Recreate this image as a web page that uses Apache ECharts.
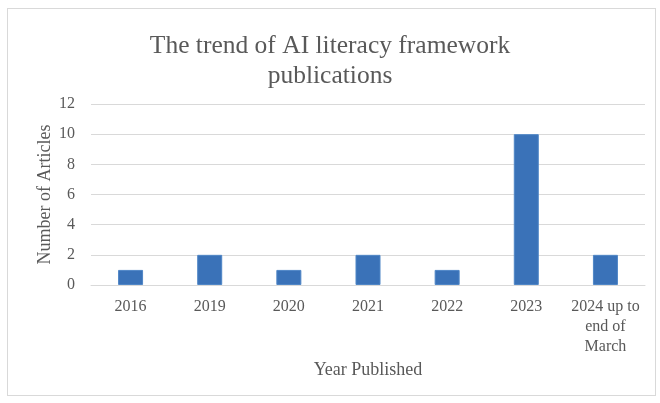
<!DOCTYPE html>
<html>
<head>
<meta charset="utf-8">
<script src="https://cdn.jsdelivr.net/npm/echarts@6/dist/echarts.min.js"></script>
<style>
  html, body { margin: 0; padding: 0; background: #fff; }
  #frame { position: absolute; left: 7px; top: 8px; width: 647px; height: 386px; border: 1px solid #d9d9d9; }
  #chart { position: absolute; left: 0; top: 0; width: 660px; height: 403px; }
</style>
</head>
<body>
<div id="frame"></div>
<div id="chart"></div>
<script>
// data
const categories = ['2016', '2019', '2020', '2021', '2022', '2023', '2024 up to\nend of\nMarch']
const articles = [1, 2, 1, 2, 1, 10, 2]
const titleText = 'The trend of AI literacy framework\npublications'

const serif = '"Liberation Serif", "DejaVu Serif", serif'
const grey = '#595959'

const chart = echarts.init(document.getElementById('chart'))
chart.setOption({
  animation: false,
  title: {
    text: titleText,
    left: 'center',
    top: 26,
    textStyle: { fontFamily: serif, fontSize: 25.5, fontWeight: 'normal', color: grey, lineHeight: 30 }
  },
  grid: { left: 91, right: 15, top: 104, bottom: 118 },
  xAxis: {
    type: 'category',
    data: categories,
    name: 'Year Published',
    nameLocation: 'middle',
    nameGap: 76,
    nameMoveOverlap: false,
    nameTextStyle: { fontFamily: serif, fontSize: 18, color: grey },
    axisLine: { lineStyle: { color: '#d9d9d9', width: 1 } },
    axisTick: { show: false },
    axisLabel: { fontFamily: serif, fontSize: 16, color: grey, margin: 12, lineHeight: 20, interval: 0 }
  },
  yAxis: {
    type: 'value',
    min: 0,
    max: 12,
    interval: 2,
    name: 'Number of Articles',
    nameLocation: 'middle',
    nameGap: 37,
    nameMoveOverlap: false,
    nameTextStyle: { fontFamily: serif, fontSize: 18, color: grey },
    axisLine: { show: false },
    axisTick: { show: false },
    axisLabel: { fontFamily: serif, fontSize: 16, color: grey, margin: 16 },
    splitLine: { lineStyle: { color: '#d9d9d9', width: 1 } }
  },
  series: [{
    type: 'bar',
    data: articles,
    barWidth: 25,
    itemStyle: { color: '#3a72b8', borderColor: '#4f86c6', borderWidth: 1 }
  }]
})
</script>
</body>
</html>
